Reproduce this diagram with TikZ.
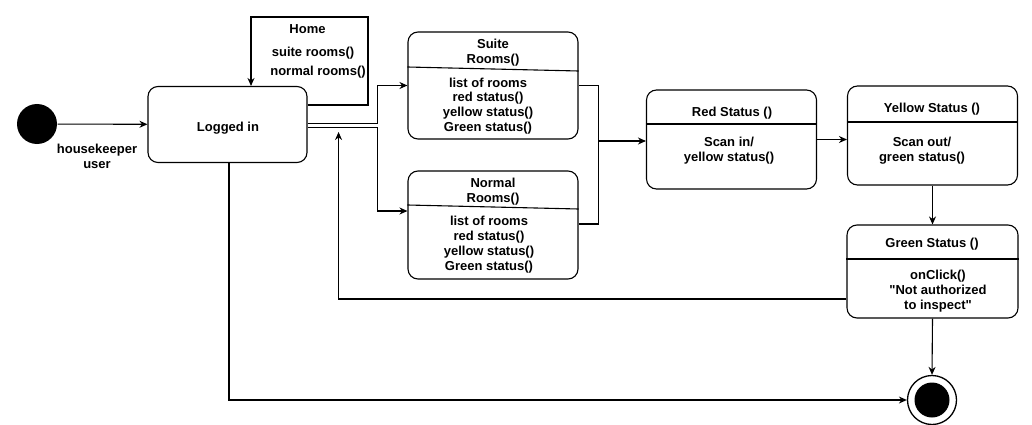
\documentclass[tikz,border=0pt]{standalone}
\usepackage{fontspec}
\newfontfamily\diagfont{Liberation Sans}
\usetikzlibrary{arrows.meta}

\begin{document}
\begin{tikzpicture}[x=1pt, y=-1pt, line width=1.1pt,
    font=\diagfont\fontsize{13}{14.8}\selectfont\bfseries,
    arr/.style={-{Stealth[length=8pt,width=7pt]}},
    state/.style={draw, rounded corners=10pt, inner sep=0pt},
    lbl/.style={align=center, inner sep=0pt}]

     \useasboundingbox (0,0) rectangle (1032,425);

     % start
     \node[circle, fill=black, minimum size=40, inner sep=0pt] (start) at (37,124) {};
     \node[lbl] (user) at (97,156) {housekeeper\\user};

     % logged in
     \node[state, minimum width=159, minimum height=76] (login) at (227.5,124.5) {};
     \node[lbl] (loginT) at (228,128) {Logged in};

     % home loop
     \coordinate (homeR) at (368,17);
     \coordinate (homeL) at (251,17);
     \node[lbl] (home) at (307.5,29) {Home};
     \node[lbl] (homeS) at (313,53) {suite rooms()};
     \node[lbl] (homeN) at (318,72) {normal rooms()};

     % suite rooms
     \node[state, minimum width=170, minimum height=107] (suite) at (493,85.5) {};
     \draw (suite.west |- 0,67) -- (suite.east |- 0,71);
     \node[lbl] (suiteT) at (493,52.5) {Suite\\Rooms()};
     \node[lbl] (suiteB) at (488,106) {list of rooms\\red status()\\yellow status()\\Green status()};

     % normal rooms
     \node[state, minimum width=170, minimum height=108] (normal) at (493,225) {};
     \draw (normal.west |- 0,205) -- (normal.east |- 0,209);
     \node[lbl] (normalT) at (493,191.5) {Normal\\Rooms()};
     \node[lbl] (normalB) at (489,244.5) {list of rooms\\red status()\\yellow status()\\Green status()};

     % red status
     \node[state, minimum width=170, minimum height=99] (red) at (731.5,139.5) {};
     \draw (red.west |- 0,124) -- (red.east |- 0,124);
     \node[lbl] (redT) at (732,113) {Red Status ()};
     \node[lbl] (redB) at (729,150.5) {Scan in/\\yellow status()};

     % yellow status
     \node[state, minimum width=170, minimum height=99] (yellow) at (932.5,135.5) {};
     \draw (yellow.west |- 0,122) -- (yellow.east |- 0,122);
     \node[lbl] (yellowT) at (932,109) {Yellow Status ()};
     \node[lbl] (yellowB) at (922,150.5) {Scan out/\\green status()};

     % green status
     \node[state, minimum width=171, minimum height=93] (green) at (932.5,271.5) {};
     \draw (green.west |- 0,259) -- (green.east |- 0,259);
     \node[lbl] (greenT) at (932,244) {Green Status ()};
     \node[lbl] (greenB) at (938,291) {onClick()\\"Not authorized\\to inspect"};

     % end
     \node[circle, draw, fill=white, line width=1.3pt, minimum size=49, inner sep=0pt] (final) at (932,400) {};
     \fill (final) circle (17.5);

     % transitions
     \coordinate (merge) at (598,141);
     \draw[arr] (start) -- (login);
     \draw[arr] ([yshift=19.5pt]login.east) -| (homeR) -- (homeL) -- (homeL |- login.north);
     \draw[arr] ([yshift=1pt]login.east) -| ([xshift=-30pt]suite.west) -- (suite.west);
     \draw[arr] ([yshift=-3pt]login.east) -| ([xshift=-30pt,yshift=14pt]normal.west) -- ([yshift=14pt]normal.west);
     \draw (suite.east) -- ++(20,0) |- ([yshift=1pt]normal.east);
     \draw[arr] (merge) -- (merge -| red.west);
     \draw[arr] (red.east) -- (red.east -| yellow.west);
     \draw[arr] (yellow.south) -- (green.north);
     \draw[arr] (green.south) -- (final.north);
     \draw[arr] ([yshift=-27.5pt]green.west) -| ([xshift=31pt,yshift=-7.5pt]login.east);
     \draw[arr] ([xshift=1.5pt]login.south) |- (final.west);

\end{tikzpicture}
\end{document}
